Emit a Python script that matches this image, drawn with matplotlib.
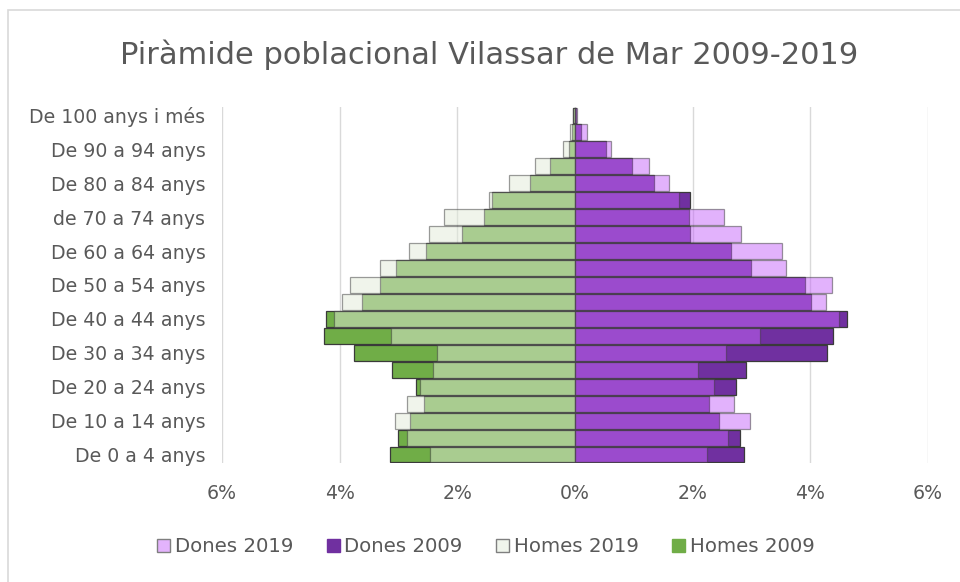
import matplotlib
matplotlib.use("Agg")
import matplotlib.pyplot as plt
from matplotlib.patches import Patch, Rectangle
import numpy as np

plt.rcParams['font.family'] = ['DejaVu Sans']

categories = ["De 0 a 4 anys", "De 5 a 9 anys", "De 10 a 14 anys", "De 15 a 19 anys",
              "De 20 a 24 anys", "De 25 a 29 anys", "De 30 a 34 anys", "De 35 a 39 anys",
              "De 40 a 44 anys", "De 45 a 49 anys", "De 50 a 54 anys", "De 55 a 59 anys",
              "De 60 a 64 anys", "De 65 a 69 anys", "de 70 a 74 anys", "De 75 a 79 anys",
              "De 80 a 84 anys", "De 85 a 89 anys", "De 90 a 94 anys", "De 95 a 99 anys",
              "De 100 anys i més"]

homes_2009 = [3.14, 3.01, 2.80, 2.56, 2.70, 3.11, 3.75, 4.27, 4.23, 3.62, 3.32,
              3.04, 2.53, 1.92, 1.55, 1.41, 0.76, 0.43, 0.11, 0.05, 0.03]
homes_2019 = [2.46, 2.86, 3.06, 2.86, 2.63, 2.42, 2.35, 3.13, 4.10, 3.96, 3.82,
              3.31, 2.83, 2.49, 2.22, 1.47, 1.12, 0.68, 0.20, 0.08, 0.04]
dones_2009 = [2.87, 2.81, 2.45, 2.28, 2.73, 2.90, 4.28, 4.38, 4.62, 4.01, 3.91,
              2.99, 2.65, 1.96, 1.93, 1.95, 1.35, 0.97, 0.53, 0.11, 0.02]
dones_2019 = [2.25, 2.60, 2.97, 2.70, 2.36, 2.09, 2.56, 3.15, 4.49, 4.27, 4.37,
              3.58, 3.52, 2.83, 2.53, 1.77, 1.60, 1.26, 0.61, 0.20, 0.04]

xticks = [-6, -4, -2, 0, 2, 4, 6]
xtick_labels = ["6%", "4%", "2%", "0%", "2%", "4%", "6%"]

text_color = "#595959"
c_h09 = "#70ad47"
c_h19 = "#e2ebd9"
c_d09 = "#7030a0"
c_d19 = "#c666fa"
edge = "#3a3a3a"

fig = plt.figure(figsize=(9.6, 5.82), dpi=100)
ax = fig.add_axes([222/960, 119/582, 706/960, 356/582])

y = np.arange(len(categories))
h = 0.94
ax.barh(y, -np.array(homes_2009), height=h, color=c_h09, edgecolor=edge, linewidth=0.9, zorder=2)
ax.barh(y, -np.array(homes_2019), height=h, color=c_h19, alpha=0.5, edgecolor=edge, linewidth=0.9, zorder=3)
ax.barh(y, dones_2009, height=h, color=c_d09, edgecolor=edge, linewidth=0.9, zorder=2)
ax.barh(y, dones_2019, height=h, color=c_d19, alpha=0.5, edgecolor=edge, linewidth=0.9, zorder=3)

ax.set_xlim(-6, 6)
ax.set_ylim(-0.5, len(categories) - 0.5)
ax.set_xticks(xticks)
ax.set_xticklabels(xtick_labels)
ax.set_yticks(y[::2])
ax.set_yticklabels(categories[::2])
ax.tick_params(axis='x', length=0, pad=15, labelsize=11.5, labelcolor=text_color)
ax.tick_params(axis='y', length=0, pad=12, labelsize=11.5, labelcolor=text_color)
ax.grid(axis='x', color="#d9d9d9", linewidth=1, zorder=0)
ax.set_axisbelow(True)
for s in ax.spines.values():
    s.set_visible(False)

title = fig.text(489/960, 1 - 55/582, "Piràmide poblacional Vilassar de Mar 2009-2019",
                 ha='center', va='center', fontsize=19, color=text_color)

fig.canvas.draw()
# fit sizes to the reference's text widths
w = title.get_window_extent().width
title.set_fontsize(19 * 738 / w)
lab = ax.get_yticklabels()[-1]
w = lab.get_window_extent().width
fs = 11.5 * 177 / w
ax.tick_params(axis='both', labelsize=fs)

handles = [Patch(facecolor="#e3b3fc", edgecolor="#7f7f7f", label="Dones 2019"),
           Patch(facecolor=c_d09, edgecolor=c_d09, label="Dones 2009"),
           Patch(facecolor="#f0f5ec", edgecolor="#7f7f7f", label="Homes 2019"),
           Patch(facecolor=c_h09, edgecolor=c_h09, label="Homes 2009")]

def make_legend(size):
    return fig.legend(handles=handles, loc='center', bbox_to_anchor=(486/960, 1 - 547/582), ncol=4,
                      frameon=False, fontsize=size, labelcolor=text_color, handlelength=0.65,
                      handleheight=0.65, handletextpad=0.25, columnspacing=1.7, borderpad=0)

lsize = fs
leg = make_legend(lsize)
for _ in range(3):
    fig.canvas.draw()
    w = leg.get_window_extent().width
    leg.remove()
    lsize = lsize * 657 / w
    leg = make_legend(lsize)

fig.patches.append(Rectangle((8/960, -0.05), 1.0, 1.05 - 10/582, transform=fig.transFigure,
                             fill=False, edgecolor="#d9d9d9", linewidth=1.2))

fig.savefig("out.png", dpi=100)
